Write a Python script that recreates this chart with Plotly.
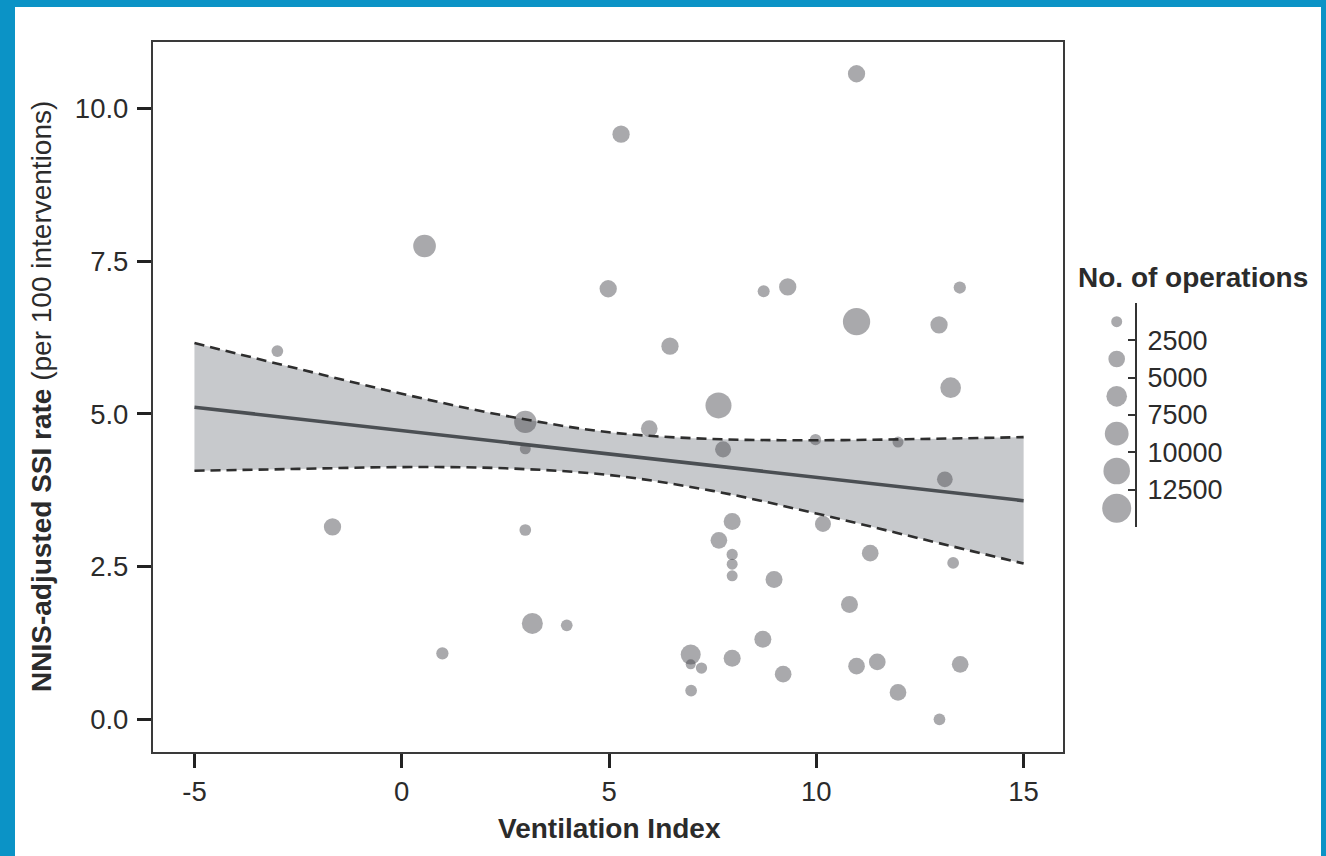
import plotly.graph_objects as go

# ---------------- data ----------------
ventilation_index = [-3.0, 0.55, 10.97, 5.29, 4.98, 8.73, 9.31, 10.97, 13.46, 12.96,
                     6.47, 13.24, 7.64, 5.97, 7.75, 9.98, 11.97, 13.10, 7.97, 10.16,
                     7.65, 7.97, 7.97, 7.97, 11.30, 13.30, 8.98, 10.80, 3.98, 8.71,
                     6.97, 6.97, 7.23, 7.97, 9.20, 10.97, 11.47, 13.47, 11.97, 6.98,
                     12.97, 2.98, 2.98, -1.67, 2.98, 3.15, 0.98]
ssi_rate = [6.03, 7.75, 10.57, 9.58, 7.05, 7.01, 7.08, 6.51, 7.07, 6.46,
            6.11, 5.43, 5.14, 4.76, 4.42, 4.58, 4.54, 3.93, 3.24, 3.20,
            2.93, 2.70, 2.54, 2.35, 2.72, 2.56, 2.29, 1.88, 1.54, 1.31,
            1.06, 0.90, 0.84, 1.00, 0.74, 0.87, 0.94, 0.90, 0.44, 0.47,
            0.00, 4.87, 4.43, 3.15, 3.10, 1.57, 1.08]
n_operations = [1500, 7850, 4100, 4100, 4100, 1600, 4100, 12000, 1700, 4100,
                4100, 6300, 10750, 3750, 3400, 1350, 1250, 3250, 3950, 3400,
                3750, 1350, 1250, 1250, 3750, 1500, 3950, 3950, 1500, 3950,
                5850, 950, 1350, 3950, 3750, 3750, 3750, 3750, 3750, 1500,
                1500, 7550, 1250, 4100, 1500, 6550, 1700]

# fitted line and 95% confidence band (read at these x positions)
fit_x = [-5, -2.5, 0, 2.5, 5, 7.5, 10, 12.5, 15]
fit_y = [5.11, 4.92, 4.73, 4.54, 4.35, 4.16, 3.97, 3.77, 3.58]
ci_upper = [6.16, 5.74, 5.33, 4.97, 4.70, 4.59, 4.57, 4.59, 4.62]
ci_lower = [4.07, 4.10, 4.13, 4.11, 4.00, 3.74, 3.37, 2.96, 2.55]

x_ticks = [-5, 0, 5, 10, 15]
x_tick_labels = ["-5", "0", "5", "10", "15"]
y_ticks = [0, 2.5, 5, 7.5, 10]
y_tick_labels = ["0.0", "2.5", "5.0", "7.5", "10.0"]
legend_breaks = [2500, 5000, 7500, 10000, 12500]
legend_labels = ["2500", "5000", "7500", "10000", "12500"]
legend_keys = [1250, 3750, 6250, 8750, 11250, 13750]

# ---------------- styling helpers ----------------
W, H = 1326, 856
FONT = "Liberation Sans, Arial, Helvetica, sans-serif"
TXT = "#2b2b2b"
PT = "rgba(70,70,76,0.66)"


def px_x(p):
    return p / W


def px_y(p):
    return 1 - p / H


def size_scale(v):
    return 3.2 + 0.22 * v ** 0.5


fig = go.Figure()

# confidence band
fig.add_trace(go.Scatter(x=fit_x, y=ci_lower, mode="lines", line=dict(width=0, shape="spline"),
                         hoverinfo="skip", xaxis="x", yaxis="y"))
fig.add_trace(go.Scatter(x=fit_x, y=ci_upper, mode="lines", line=dict(width=0, shape="spline"),
                         fill="tonexty", fillcolor="#c7c9cc", hoverinfo="skip",
                         xaxis="x", yaxis="y"))

# points
fig.add_trace(go.Scatter(x=ventilation_index, y=ssi_rate, mode="markers",
                         marker=dict(size=[size_scale(v) for v in n_operations],
                                     sizemode="diameter", color=PT, line=dict(width=0)),
                         xaxis="x", yaxis="y"))

# dashed CI limits and the fit line
for yy in (ci_upper, ci_lower):
    fig.add_trace(go.Scatter(x=fit_x, y=yy, mode="lines",
                             line=dict(color="#2e2e2e", width=2.6, dash="10px,6px", shape="spline"),
                             xaxis="x", yaxis="y"))
fig.add_trace(go.Scatter(x=fit_x, y=fit_y, mode="lines",
                         line=dict(color="#4b4f53", width=3.6), xaxis="x", yaxis="y"))

# size legend keys
fig.add_trace(go.Scatter(x=["key"] * len(legend_keys), y=legend_keys, mode="markers",
                         marker=dict(size=[size_scale(v) for v in legend_keys],
                                     sizemode="diameter", color=PT, line=dict(width=0)),
                         xaxis="x2", yaxis="y2"))

axis_common = dict(showgrid=False, zeroline=False, automargin=False)

fig.update_layout(
    width=W, height=H,
    margin=dict(l=0, r=0, t=0, b=0),
    template="none",
    showlegend=False,
    paper_bgcolor="#0b93c6",
    plot_bgcolor="white",
    font=dict(family=FONT, size=26, color=TXT),
    xaxis=dict(domain=[px_x(153), px_x(1063)], range=[-6.0, 15.95], anchor="y",
               tickvals=x_ticks, ticktext=x_tick_labels, ticks="outside", ticklen=14,
               tickwidth=2.5, tickcolor="#222",
               showline=True, mirror=True, linecolor="#3a3a3a", linewidth=2.2,
               tickfont=dict(size=27.5, color=TXT), **axis_common),
    yaxis=dict(domain=[px_y(752), px_y(42)], range=[-0.535, 11.09], anchor="x",
               tickvals=y_ticks, ticktext=y_tick_labels, ticks="outside", ticklen=14, tickwidth=2.5,
               tickcolor="#222", ticklabelstandoff=3,
               showline=True, mirror=True, linecolor="#3a3a3a", linewidth=2.2,
               tickfont=dict(size=27.5, color=TXT), **axis_common),
    xaxis2=dict(domain=[px_x(1098.4), px_x(1135)], range=[-0.5, 0.5], type="category",
                visible=False, anchor="y2"),
    yaxis2=dict(domain=[px_y(527), px_y(303)], range=[15000, 0], anchor="x2", side="right",
                tickvals=legend_breaks, ticktext=legend_labels, ticks="inside", ticklen=7,
                tickwidth=2, tickcolor="#333", ticklabelstandoff=5,
                showline=True, linecolor="#333", linewidth=2.2,
                tickfont=dict(size=27, color=TXT), **axis_common),
    shapes=[dict(type="rect", xref="paper", yref="paper", layer="below",
                 x0=px_x(15), x1=px_x(1321), y0=0, y1=px_y(7),
                 fillcolor="white", line=dict(width=0))],
    annotations=[
        dict(text="<b>Ventilation Index</b>", xref="paper", yref="paper",
             x=px_x(609), y=px_y(828), xanchor="center", yanchor="middle", showarrow=False,
             font=dict(size=28, color=TXT, family=FONT)),
        dict(text="<b>NNIS-adjusted SSI rate</b> (per 100 interventions)", xref="paper", yref="paper",
             x=px_x(42), y=px_y(397), xanchor="center", yanchor="middle", textangle=-90,
             showarrow=False, font=dict(size=28, color=TXT, family=FONT)),
        dict(text="<b>No. of operations</b>", xref="paper", yref="paper",
             x=px_x(1076), y=px_y(277), xanchor="left", yanchor="middle", showarrow=False,
             font=dict(size=28, color=TXT, family=FONT)),
    ],
)

fig.write_html("out.html", config={"displayModeBar": False},
               post_script="document.body.style.margin='0';document.body.style.background='#0b93c6';")
